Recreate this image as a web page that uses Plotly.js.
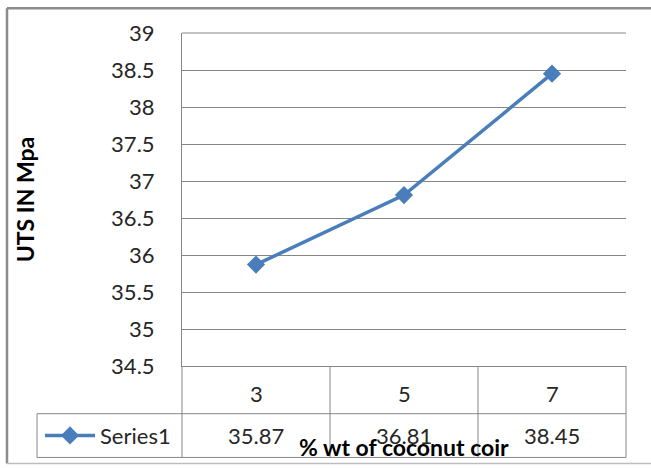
<!DOCTYPE html>
<html>
<head>
<meta charset="utf-8">
<script src="https://cdn.plot.ly/plotly-3.0.1.min.js"></script>
<style>
  html, body { margin: 0; padding: 0; background: #ffffff; }
  #chart { width: 651px; height: 468px; }
</style>
</head>
<body>
<div id="chart"></div>
<script>
// ---- data ----
const categories = ['3', '5', '7'];
const utsValues = [35.87, 36.81, 38.45];
const seriesName = 'Series1';
const xTitle = '% wt of coconut coir';
const yTitle = 'UTS IN Mpa';
const yRange = [34.5, 39];
const yStep = 0.5;

// ---- layout geometry (pixels) ----
const W = 651, H = 468;
const M = { l: 182, r: 25, t: 33, b: 100 };
const plotW = W - M.l - M.r, plotH = H - M.t - M.b;
const px = v => (v - M.l) / plotW;          // pixel x -> paper x
const py = v => (H - M.b - v) / plotH;      // pixel y -> paper y

const FONT = 'Lato, "Open Sans", "Liberation Sans", sans-serif';
const GRID = '#868686';
const TXT = '#262626';
const BLUE = '#4a7ebb';

const rowCatBottom = 416, rowSerBottom = 460, rowCatMid = 395.5, rowSerMid = 438;

const shapes = [];
function line(x0, y0, x1, y1, xref, color, width) {
  shapes.push({ type: 'line', xref: xref || 'paper', yref: 'paper', x0, y0, x1, y1,
    line: { color: color || GRID, width: width || 1 }, layer: 'above' });
}
// top gridline (at range edge)
line(0, 1, 1, 1);
// data table grid
line(0, py(368), 0, py(rowSerBottom));                 // left of category cells
line(1, py(368), 1, py(rowSerBottom));                 // right edge
for (let i = 0; i < categories.length - 1; i++) {
  line(i + 0.5, py(368), i + 0.5, py(rowSerBottom), 'x');
}
line(px(37), py(rowCatBottom), 1, py(rowCatBottom));   // between rows
line(px(37), py(rowSerBottom), 1, py(rowSerBottom));   // bottom
line(px(37), py(rowCatBottom), px(37), py(rowSerBottom)); // legend cell left
// outer chart border
line(px(7), py(8), px(651), py(8), 'paper', '#8c8c8c', 2.5);
line(px(7), py(8), px(7), py(466), 'paper', '#8c8c8c', 2.5);
line(px(7), py(466), px(651), py(466), 'paper', '#bdbdbd', 1.5);

const annotations = [];
categories.forEach((c, i) => {
  annotations.push({ xref: 'x', yref: 'paper', x: i, y: py(rowCatMid), text: c,
    showarrow: false, xanchor: 'center', yanchor: 'middle', font: { family: FONT, size: 22, color: TXT } });
  annotations.push({ xref: 'x', yref: 'paper', x: i, y: py(rowSerMid), text: utsValues[i].toFixed(2),
    showarrow: false, xanchor: 'center', yanchor: 'middle', font: { family: FONT, size: 22, color: TXT } });
});
// x-axis title overlapping the table (as in the original)
annotations.push({ xref: 'paper', yref: 'paper', x: 0.5, y: py(449), text: '<b>' + xTitle + '</b>',
  showarrow: false, xanchor: 'center', yanchor: 'middle', font: { family: FONT, size: 23, color: '#000' } });

const trace = {
  type: 'scatter', mode: 'lines+markers', name: seriesName,
  x: categories, y: utsValues,
  line: { color: BLUE, width: 3.5 },
  marker: { symbol: 'diamond', size: 14, color: BLUE }
};

const layout = {
  width: W, height: H,
  margin: M,
  paper_bgcolor: '#ffffff', plot_bgcolor: '#ffffff',
  font: { family: FONT, size: 22, color: TXT },
  showlegend: true,
  legend: { x: px(40), y: py(rowSerMid), xanchor: 'left', yanchor: 'middle',
    font: { family: FONT, size: 22, color: TXT }, bgcolor: 'rgba(0,0,0,0)', itemwidth: 50, borderwidth: 0 },
  xaxis: { type: 'category', range: [-0.5, categories.length - 0.5], showgrid: false,
    showline: true, linecolor: GRID, linewidth: 1, showticklabels: false, ticks: '', zeroline: false, fixedrange: true },
  yaxis: { range: yRange, dtick: yStep, tick0: yRange[0], showgrid: true, gridcolor: GRID, gridwidth: 1,
    showline: true, linecolor: GRID, linewidth: 1, ticks: '', ticklabelstandoff: 22, zeroline: false,
    tickfont: { family: FONT, size: 22, color: TXT },
    title: { text: '<b>' + yTitle + '</b>', font: { family: FONT, size: 23, color: '#000' }, standoff: 70 } },
  shapes, annotations
};

Plotly.newPlot('chart', [trace], layout, { displayModeBar: false, staticPlot: true });
</script>
</body>
</html>
